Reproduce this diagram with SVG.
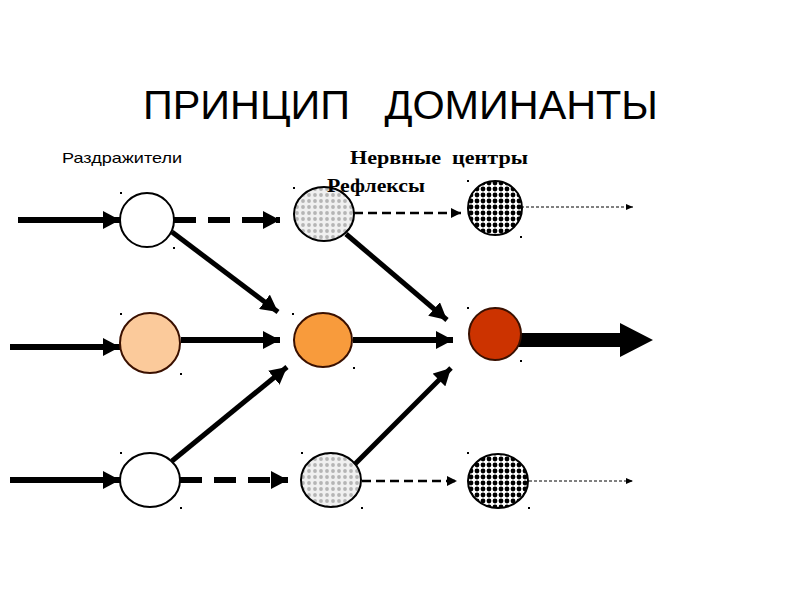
<svg xmlns="http://www.w3.org/2000/svg" width="800" height="600" viewBox="0 0 800 600">
<style>
.node{stroke:#000;stroke-width:2}
.warm{stroke:#3a1000;stroke-width:2}
.thick{stroke:#000;stroke-width:6;fill:none}
.diag{stroke:#000;stroke-width:5;fill:none}
.dashT{stroke:#000;stroke-width:6;fill:none;stroke-dasharray:22 12}
.dashM{stroke:#000;stroke-width:2.5;fill:none;stroke-dasharray:9 5}
.dashS{stroke:#000;stroke-width:1;fill:none;stroke-dasharray:3 2}
.speck{fill:#000}
</style>
<defs>
<pattern id="grayDots" width="6" height="6" patternUnits="userSpaceOnUse">
<rect width="6" height="6" fill="#f0f0f0"/>
<circle cx="3" cy="3" r="1.9" fill="#b5b5b5"/>
</pattern>
<pattern id="darkDots" width="6" height="6" patternUnits="userSpaceOnUse">
<rect width="6" height="6" fill="#fff"/>
<circle cx="3" cy="3" r="2.4" fill="#000"/>
</pattern>
<marker id="headL" markerUnits="userSpaceOnUse" markerWidth="17" markerHeight="18" refX="17" refY="9" orient="auto">
<path d="M0,0 L17,9 L0,18 z" fill="#000"/>
</marker>
<marker id="headM" markerUnits="userSpaceOnUse" markerWidth="10" markerHeight="10" refX="10" refY="5" orient="auto">
<path d="M0,0 L10,5 L0,10 z" fill="#000"/>
</marker>
<marker id="headS" markerUnits="userSpaceOnUse" markerWidth="7" markerHeight="6" refX="7" refY="3" orient="auto">
<path d="M0,0 L7,3 L0,6 z" fill="#000"/>
</marker>
</defs>
<rect width="800" height="600" fill="#fff"/>

<text x="143" y="119" font-family="Liberation Sans, Arial, sans-serif" font-size="40" textLength="515" lengthAdjust="spacingAndGlyphs" xml:space="preserve">ПРИНЦИП   ДОМИНАНТЫ</text>
<text x="62" y="163" font-family="Liberation Sans, Arial, sans-serif" font-size="14.5" textLength="120" lengthAdjust="spacingAndGlyphs">Раздражители</text>
<text x="350" y="164" font-family="Liberation Serif, Times New Roman, serif" font-size="18" font-weight="bold" textLength="178" lengthAdjust="spacingAndGlyphs" xml:space="preserve">Нервные  центры</text>

<g id="connectors">
<line class="thick" x1="18" y1="220" x2="120" y2="220" marker-end="url(#headL)"/>
<line class="dashT" x1="174" y1="220" x2="280" y2="220" marker-end="url(#headL)"/>
<line class="dashM" x1="354" y1="213" x2="461" y2="213" marker-end="url(#headM)"/>
<line class="dashS" x1="521" y1="207" x2="633" y2="207" marker-end="url(#headS)"/>

<line class="thick" x1="10" y1="347" x2="120" y2="347" marker-end="url(#headL)"/>
<line class="thick" x1="181" y1="340" x2="280" y2="340" marker-end="url(#headL)"/>
<line class="thick" x1="353" y1="340" x2="453" y2="340" marker-end="url(#headL)"/>
<path d="M515,333 L620,333 L620,323 L653,340 L620,357 L620,347 L515,347 z" fill="#000"/>

<line class="thick" x1="10" y1="480" x2="120" y2="480" marker-end="url(#headL)"/>
<line class="dashT" x1="180" y1="480" x2="288" y2="480" marker-end="url(#headL)"/>
<line class="dashM" x1="362" y1="481" x2="457" y2="481" marker-end="url(#headM)"/>
<line class="dashS" x1="529" y1="481" x2="633" y2="481" marker-end="url(#headS)"/>

<line class="diag" x1="172" y1="232" x2="278" y2="312" marker-end="url(#headL)"/>
<line class="diag" x1="346" y1="234" x2="447" y2="320" marker-end="url(#headL)"/>
<line class="diag" x1="172" y1="461" x2="287" y2="367" marker-end="url(#headL)"/>
<line class="diag" x1="352" y1="467" x2="451" y2="368" marker-end="url(#headL)"/>
</g>

<g id="n1"><ellipse class="node" cx="147" cy="220" rx="27" ry="27" fill="#fff"/></g>
<g id="n2"><ellipse class="node" cx="324" cy="214" rx="30" ry="27" fill="url(#grayDots)"/></g>
<g id="n3"><ellipse class="node" cx="495" cy="208" rx="27" ry="27" fill="url(#darkDots)"/></g>
<g id="n4"><ellipse class="warm" cx="150" cy="343" rx="30" ry="30" fill="#fbca9b"/></g>
<g id="n5"><ellipse class="warm" cx="323" cy="340" rx="29" ry="27" fill="#f89b3c"/></g>
<g id="n6"><ellipse class="warm" cx="495" cy="334" rx="26" ry="26" fill="#cc3300"/></g>
<g id="n7"><ellipse class="node" cx="150" cy="480" rx="30" ry="27" fill="#fff"/></g>
<g id="n8"><ellipse class="node" cx="331" cy="480" rx="30" ry="27" fill="url(#grayDots)"/></g>
<g id="n9"><ellipse class="node" cx="498" cy="481" rx="30" ry="27" fill="url(#darkDots)"/></g>

<text x="327" y="192" font-family="Liberation Serif, Times New Roman, serif" font-size="18" font-weight="bold" textLength="98" lengthAdjust="spacingAndGlyphs">Рефлексы</text>

<g id="specks" class="speck">
<rect x="120" y="192" width="2" height="2"/><rect x="173" y="247" width="2" height="2"/>
<rect x="293" y="187" width="2" height="2"/>
<rect x="467" y="180" width="2" height="2"/><rect x="520" y="236" width="2" height="2"/>
<rect x="120" y="313" width="2" height="2"/><rect x="180" y="373" width="2" height="2"/>
<rect x="292" y="313" width="2" height="2"/><rect x="353" y="367" width="2" height="2"/>
<rect x="467" y="307" width="2" height="2"/><rect x="520" y="360" width="2" height="2"/>
<rect x="120" y="452" width="2" height="2"/><rect x="180" y="507" width="2" height="2"/>
<rect x="301" y="452" width="2" height="2"/><rect x="361" y="507" width="2" height="2"/>
<rect x="467" y="452" width="2" height="2"/><rect x="528" y="507" width="2" height="2"/>
</g>
</svg>
